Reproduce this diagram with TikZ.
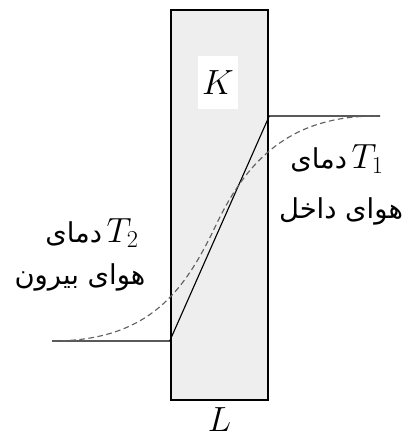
\documentclass[tikz,border=0pt]{standalone}
\usepackage{fontspec}
\newfontfamily\fafont[Script=Arabic]{DejaVu Sans}
\TeXXeTstate=1
\usetikzlibrary{positioning}
\newcommand{\bigmath}{\fontsize{27}{30}\selectfont}
\tikzset{
	wall/.style={
		rectangle,
		draw=black, line width=1.8pt,
		fill=gray!13,
		inner sep=0pt,
	},
	sym/.style={
		inner sep=2pt,
		font=\bigmath,
	},
	label/.style={
		inner sep=1pt,
		font=\fontsize{19.5}{24}\selectfont,
		align=center,
	},
}

\begin{document}
\begin{tikzpicture}[x=0.025cm,y=-0.025cm,node distance=2mm]
\useasboundingbox (0,0) rectangle (403,439);
\node	(wall)	[wall, minimum width=97*0.025cm, minimum height=390*0.025cm]	at (219.5,205)	{};
\node	(k)	[sym, fill=white, minimum width=40*0.025cm, minimum height=53*0.025cm]	at (218,83)	{$K$};
\node	(l)	[sym]	[below=0.8mm of wall]	{$L$};

\coordinate (outside) at (52,341);
\coordinate (inside) at (380,116);

\node	(t2)	[label]	at (92,233)	{{\fafont\beginR دمای\endR}\,{\bigmath$T_2$}};
\node	(out)	[label]	at (80,277)	{\fafont\beginR هوای بیرون\endR};
\node	(t1)	[label]	at (337,159)	{{\fafont\beginR دمای\endR}\,{\bigmath$T_1$}};
\node	(in)	[label]	at (341,211)	{\fafont\beginR هوای داخل\endR};

%\draw[thick] (outside) -- (inside);
\draw[thick] (outside) -- (wall.west |- outside) -- (wall.east |- inside) -- (inside);
\draw[thick, dash pattern=on 4pt off 2.5pt, gray!75!black] (outside) .. controls (150,341) and (185,290) .. (216,225) .. controls (247,160) and (290,116) .. (376,116);

\end{tikzpicture}
\end{document}
